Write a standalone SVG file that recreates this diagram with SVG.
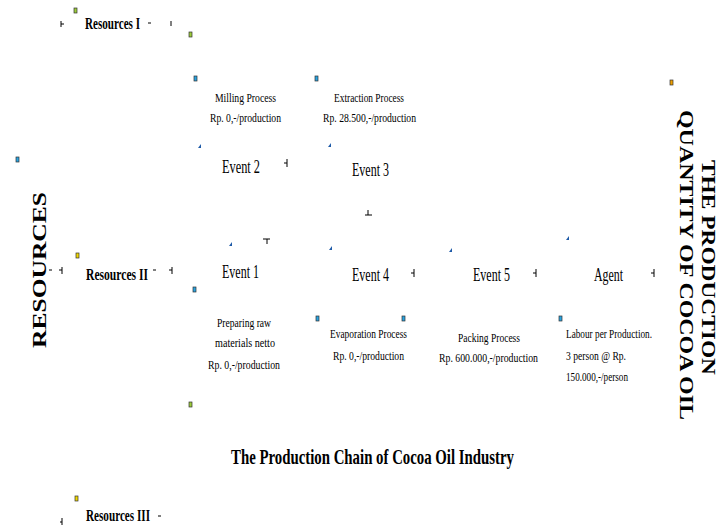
<svg xmlns="http://www.w3.org/2000/svg" width="727" height="527" viewBox="0 0 727 527">
<style>
.t{font-family:"Liberation Serif","Times New Roman",serif;fill:#000}
.s{font-size:13.5px}
.e{font-size:18px}
.b{font-size:17px;font-weight:bold}
.v{font-family:"Liberation Serif","Times New Roman",serif;font-weight:bold;font-size:19px;fill:#000}
.h{stroke:#000;stroke-width:1}
</style>
<rect width="727" height="527" fill="#fff"/>
<defs>
<rect id="gm" width="3" height="5" fill="#9ccc3a" stroke="#333" stroke-width="0.7"/>
<rect id="bm" width="3" height="5" fill="#29a3e0" stroke="#333" stroke-width="0.7"/>
<rect id="ym" width="3" height="5" fill="#f0d800" stroke="#333" stroke-width="0.7"/>
<rect id="om" width="3" height="5" fill="#f0a000" stroke="#333" stroke-width="0.7"/>
<path id="tri" d="M0,4 L3,0 L3,4 Z" fill="#1e5aa8"/>
</defs>
<g id="connectors">
<path class="h" d="M61,21 v6 M61,24 h3 M148,23 h3 M171,21 v5"/>
<path class="h" d="M49,270 h3 M62,267 v7 M59,270 h3 M153,270 h3 M172,267 v7 M169,270 h3"/>
<path class="h" d="M287,159 v8 M284,163 h3"/>
<path class="h" d="M368,210 v5 M365,215 h7"/>
<path class="h" d="M263,239 h7 M267,239 v5"/>
<path class="h" d="M414,269 v8 M411,273 h3 M536,269 v8 M533,273 h3 M654,269 v8 M651,273 h3"/>
<path class="h" d="M62,518 v7 M60,522 h2 M158,516 h3"/>
</g>
<g id="markers">
<use href="#gm" x="74" y="8"/>
<use href="#gm" x="189" y="32"/>
<use href="#bm" x="194" y="76"/>
<use href="#bm" x="315" y="76"/>
<use href="#om" x="670" y="80"/>
<use href="#bm" x="16" y="157"/>
<use href="#ym" x="76" y="253"/>
<use href="#bm" x="193" y="287"/>
<use href="#bm" x="316" y="316"/>
<use href="#bm" x="402" y="316"/>
<use href="#bm" x="559" y="316"/>
<use href="#gm" x="189" y="402"/>
<use href="#ym" x="75" y="496"/>
<use href="#tri" x="198" y="144"/>
<use href="#tri" x="328" y="143"/>
<use href="#tri" x="229" y="242"/>
<use href="#tri" x="329" y="246"/>
<use href="#tri" x="449" y="248"/>
<use href="#tri" x="566" y="236"/>
</g>
<g id="resources-1"><text class="t b" x="85" y="29" textLength="55" lengthAdjust="spacingAndGlyphs">Resources I</text></g>
<g id="resources-2"><text class="t b" x="86" y="280" textLength="62" lengthAdjust="spacingAndGlyphs">Resources II</text></g>
<g id="resources-3"><text class="t b" x="86" y="521" textLength="64" lengthAdjust="spacingAndGlyphs">Resources III</text></g>
<g id="milling">
<text class="t s" x="215" y="102" textLength="61" lengthAdjust="spacingAndGlyphs">Milling Process</text>
<text class="t s" x="210" y="122" textLength="71" lengthAdjust="spacingAndGlyphs">Rp. 0,-/production</text>
</g>
<g id="extraction">
<text class="t s" x="334" y="102" textLength="70" lengthAdjust="spacingAndGlyphs">Extraction Process</text>
<text class="t s" x="323" y="122" textLength="93" lengthAdjust="spacingAndGlyphs">Rp. 28.500,-/production</text>
</g>
<g id="event2"><text class="t e" x="222" y="173" textLength="38" lengthAdjust="spacingAndGlyphs">Event 2</text></g>
<g id="event3"><text class="t e" x="352" y="176" textLength="37" lengthAdjust="spacingAndGlyphs">Event 3</text></g>
<g id="event1"><text class="t e" x="222" y="278" textLength="37" lengthAdjust="spacingAndGlyphs">Event 1</text></g>
<g id="event4"><text class="t e" x="352" y="281" textLength="37" lengthAdjust="spacingAndGlyphs">Event 4</text></g>
<g id="event5"><text class="t e" x="473" y="281" textLength="37" lengthAdjust="spacingAndGlyphs">Event 5</text></g>
<g id="agent"><text class="t e" x="594" y="281" textLength="29" lengthAdjust="spacingAndGlyphs">Agent</text></g>
<g id="preparing">
<text class="t s" x="217" y="327" textLength="54" lengthAdjust="spacingAndGlyphs">Preparing raw</text>
<text class="t s" x="215" y="347" textLength="60" lengthAdjust="spacingAndGlyphs">materials netto</text>
<text class="t s" x="208" y="369" textLength="72" lengthAdjust="spacingAndGlyphs">Rp. 0,-/production</text>
</g>
<g id="evaporation">
<text class="t s" x="330" y="338" textLength="77" lengthAdjust="spacingAndGlyphs">Evaporation Process</text>
<text class="t s" x="333" y="360" textLength="71" lengthAdjust="spacingAndGlyphs">Rp. 0,-/production</text>
</g>
<g id="packing">
<text class="t s" x="458" y="342" textLength="62" lengthAdjust="spacingAndGlyphs">Packing Process</text>
<text class="t s" x="439" y="362" textLength="99" lengthAdjust="spacingAndGlyphs">Rp. 600.000,-/production</text>
</g>
<g id="labour">
<text class="t s" x="566" y="338" textLength="86" lengthAdjust="spacingAndGlyphs">Labour per Production.</text>
<text class="t s" x="566" y="360" textLength="60" lengthAdjust="spacingAndGlyphs">3 person @ Rp.</text>
<text class="t s" x="566" y="381" textLength="62" lengthAdjust="spacingAndGlyphs">150.000,-/person</text>
</g>
<g id="title"><text class="t" x="231" y="464" font-size="21" font-weight="bold" textLength="283" lengthAdjust="spacingAndGlyphs">The Production Chain of Cocoa Oil Industry</text></g>
<g id="resources-label"><text class="v" transform="translate(46,348) rotate(-90)" textLength="156" lengthAdjust="spacingAndGlyphs">RESOURCES</text></g>
<g id="quantity-label">
<text class="v" transform="translate(702,160) rotate(90)" textLength="215" lengthAdjust="spacingAndGlyphs">THE PRODUCTION</text>
<text class="v" transform="translate(680,110) rotate(90)" textLength="310" lengthAdjust="spacingAndGlyphs">QUANTITY OF COCOA OIL</text>
</g>
</svg>
